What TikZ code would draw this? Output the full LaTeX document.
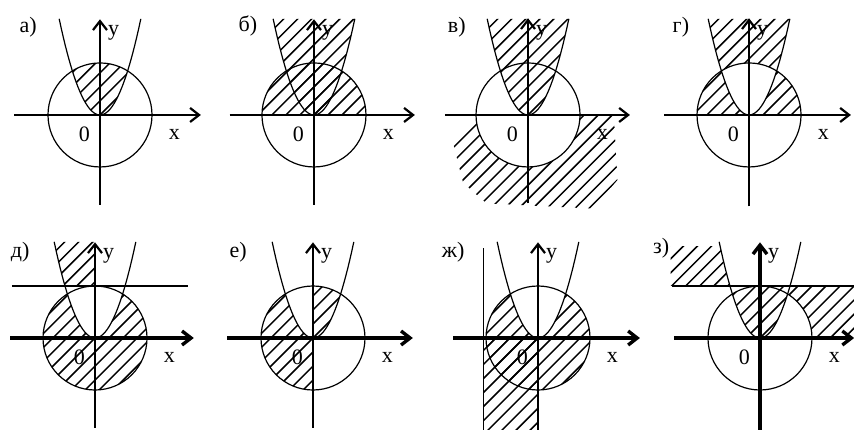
\documentclass[tikz,border=0pt]{standalone}
\usepackage{fontspec}
\setmainfont{Liberation Serif}
\usetikzlibrary{arrows.meta}

\tikzset{
  curve/.style={line width=0.6pt},
  hatch/.style={line width=0.75pt},
  thinaxis/.style={line width=0.6pt, -{Straight Barb[length=4.5pt,width=7pt,line width=1.1pt]}},
  boldaxis/.style={line width=1.7pt, -{Straight Barb[length=4.5pt,width=7pt]}},
  lbl/.style={font=\fontsize{11}{13}\selectfont, inner sep=0pt},
}

% spacing of the hatch lines
\def\hs{0.27}
\newcommand{\HatchAll}{\foreach \k in {-14,...,14} \draw[hatch] ({\k*\hs-4},-4) -- ++(8,8);}
\newcommand{\Parab}{plot[domain=-0.785:0.785, samples=41] (\x,{3*\x*\x})}
\newcommand{\ParabRegion}{plot[domain=-0.785:0.785, samples=41] (\x,{3*\x*\x}) -- cycle}
\newcommand{\UnitCircle}{(0,0) circle (1)}
\newcommand{\XYO}[1]{%
  \node[lbl] (x#1) at (1.43,-0.38) {x};
  \node[lbl] (y#1) at (0.26,1.58) {y};
  \node[lbl] (o#1) at (-0.3,-0.37) {0};}

\begin{document}
\begin{tikzpicture}[x=26pt, y=26pt]
\useasboundingbox (0,0) rectangle (16.423,8.269);

%----- PANEL A -----
\begin{scope}[shift={(1.923,6.058)}]
  \begin{scope}
    \clip \UnitCircle;
    \clip \ParabRegion;
    \HatchAll
  \end{scope}
  \draw[curve] \UnitCircle;
  \draw[curve] \Parab;
  \draw[thinaxis] (-1.65,0) -- (1.94,0);
  \draw[thinaxis] (0,-1.73) -- (0,1.84);
  \node[lbl] (la) at (-1.38,1.68) {а)};
  \XYO{a}
\end{scope}

%----- PANEL B -----
\begin{scope}[shift={(6.038,6.058)}]
  \begin{scope}
    \clip \ParabRegion;
    \HatchAll
  \end{scope}
  \begin{scope}
    \clip \UnitCircle;
    \clip (-1,0) rectangle (1,1);
    \HatchAll
  \end{scope}
  \draw[curve] \UnitCircle;
  \draw[curve] \Parab;
  \draw[thinaxis] (-1.62,0) -- (1.94,0);
  \draw[thinaxis] (0,-1.73) -- (0,1.84);
  \node[lbl] (lb) at (-1.27,1.71) {б)};
  \XYO{b}
\end{scope}

%----- PANEL V -----
\begin{scope}[shift={(10.154,6.058)}]
  \begin{scope}
    \clip \ParabRegion;
    \HatchAll
  \end{scope}
  \begin{scope}[even odd rule]
    \clip (-2,-2) rectangle (2,0);
    \clip (-1.0,0) -- (-1.45,-0.5) -- (-1.25,-1.3) -- (-0.8,-1.7)
      -- (1.25,-1.8) -- (1.72,-1.25) -- (1.65,0) -- cycle \UnitCircle;
    \HatchAll
  \end{scope}
  \draw[curve] \UnitCircle;
  \draw[curve] \Parab;
  \draw[thinaxis] (-1.6,0) -- (1.96,0);
  \draw[thinaxis] (0,-1.7) -- (0,1.86);
  \node[lbl] (lv) at (-1.37,1.69) {в)};
  \XYO{v}
\end{scope}

%----- PANEL G -----
\begin{scope}[shift={(14.404,6.058)}]
  \begin{scope}[even odd rule]
    \clip (-2,0) rectangle (2,2);
    \clip \ParabRegion \UnitCircle;
    \HatchAll
  \end{scope}
  \draw[curve] \UnitCircle;
  \draw[curve] \Parab;
  \draw[thinaxis] (-1.63,0) -- (1.96,0);
  \draw[thinaxis] (0,-1.76) -- (0,1.86);
  \node[lbl] (lg) at (-1.31,1.69) {г)};
  \XYO{g}
\end{scope}

%----- PANEL D -----
\begin{scope}[shift={(1.827,1.769)}]
  \begin{scope}[even odd rule]
    \clip \UnitCircle;
    \clip \UnitCircle \ParabRegion;
    \HatchAll
  \end{scope}
  % only the left part above the line
  \begin{scope}
    \clip \ParabRegion;
    \clip (-1,1) rectangle (0,2);
    \HatchAll
  \end{scope}
  \draw[curve] \UnitCircle;
  \draw[curve] \Parab;
  \draw[curve] (-1.6,1) -- (1.79,1);
  \draw[boldaxis] (-1.63,0) -- (1.9,0);
  \draw[thinaxis] (0,-1.73) -- (0,1.84);
  \node[lbl] (ld) at (-1.44,1.65) {д)};
  \XYO{d}
\end{scope}

%----- PANEL E -----
\begin{scope}[shift={(6.019,1.769)}]
  \begin{scope}[even odd rule]
    \clip \UnitCircle;
    \clip (-2,-2) rectangle (0,2) \ParabRegion;
    \HatchAll
  \end{scope}
  \draw[curve] \UnitCircle;
  \draw[curve] \Parab;
  \draw[boldaxis] (-1.65,0) -- (1.92,0);
  \draw[thinaxis] (0,-1.73) -- (0,1.84);
  \node[lbl] (le) at (-1.44,1.65) {е)};
  \XYO{e}
\end{scope}

%----- PANEL ZH -----
\begin{scope}[shift={(10.346,1.769)}]
  \begin{scope}[even odd rule]
    \clip \UnitCircle;
    \clip \UnitCircle \ParabRegion;
    \HatchAll
  \end{scope}
  \begin{scope}
    \clip (-1.05,-1.77) rectangle (0,0);
    \HatchAll
  \end{scope}
  \draw[curve] \UnitCircle;
  \draw[curve] \Parab;
  \draw[curve] (-1.05,-1.77) -- (-1.05,1.73);
  \draw[boldaxis] (-1.63,0) -- (1.96,0);
  \draw[thinaxis] (0,-1.77) -- (0,1.84);
  \node[lbl] (lzh) at (-1.63,1.65) {ж)};
  \XYO{zh}
\end{scope}

%----- PANEL Z -----
\begin{scope}[shift={(14.615,1.769)}]
  \begin{scope}[even odd rule]
    \clip (-1.72,1) rectangle (0,1.75);
    \clip (-2,0.9) rectangle (0,2) \ParabRegion;
    \HatchAll
  \end{scope}
  \begin{scope}
    \clip \UnitCircle;
    \clip \ParabRegion;
    \clip (-1,0) rectangle (1,1);
    \HatchAll
  \end{scope}
  \begin{scope}[even odd rule]
    \clip (0,0) rectangle (1.81,1);
    \clip (0,0) rectangle (1.81,1) \UnitCircle;
    \HatchAll
  \end{scope}
  \draw[curve] \UnitCircle;
  \draw[curve] \Parab;
  \draw[curve] (-1.69,1) -- (1.81,1);
  \draw[boldaxis] (-1.65,0) -- (1.81,0);
  \draw[boldaxis] (0,-1.77) -- (0,1.84);
  \node[lbl] (lz) at (-1.9,1.73) {з)};
  \XYO{z}
\end{scope}

\end{tikzpicture}
\end{document}
